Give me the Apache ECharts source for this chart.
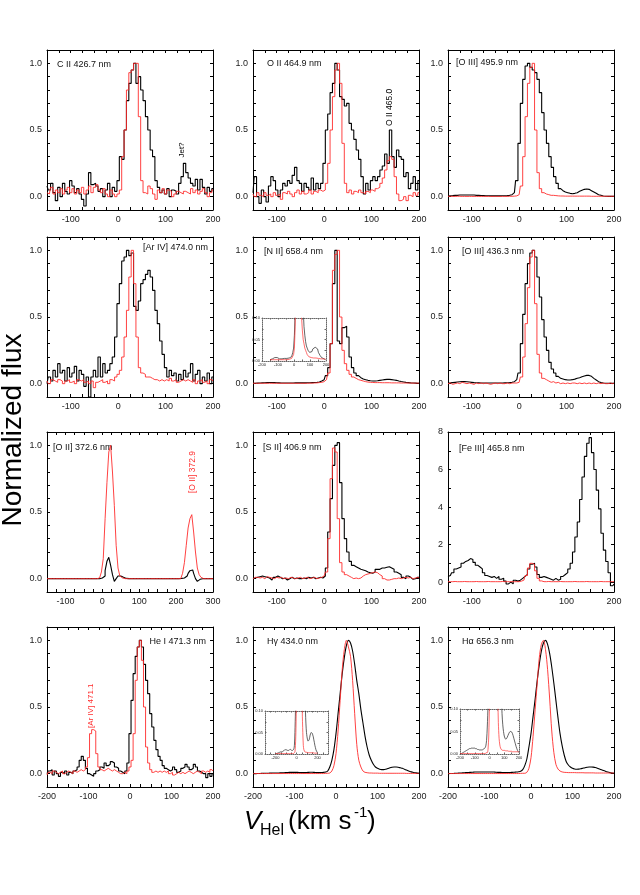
<!DOCTYPE html>
<html>
<head>
<meta charset="utf-8">
<title>spectra</title>
<script src="https://cdn.jsdelivr.net/npm/echarts@6/dist/echarts.min.js"></script>
<style>html,body{margin:0;padding:0;background:#fff}#chart{width:640px;height:895px}</style>
</head>
<body>
<div id="chart"></div>
<script>
// every spectrum is sampled on a 5 km/s velocity grid, starting at its panel's left limit
var VSTEP = 5;

// C II 426.7 (v = -150..200)
var cII_black = [0.08,0.05,0.1,0.03,-0.03,0.07,0.0,0.1,0.04,0.02,
  0.12,0.08,0.03,0.06,0.02,-0.02,-0.07,0.02,0.18,0.09,
  0.1,0.08,0.04,0.06,0.0,0.05,0.1,0.0,0.07,0.04,
  0.12,0.3,0.28,0.5,0.72,0.85,0.95,1.0,0.85,0.9,
  0.8,0.72,0.6,0.5,0.35,0.3,0.12,0.07,0.03,0.05,
  0.02,0.06,0.0,0.05,0.04,0.02,0.1,0.15,0.25,0.18,
  0.14,0.1,0.08,0.13,0.05,0.13,0.07,0.02,0.07,0.04,
  0.06];
var cII_red = [0.03,0.02,0.07,0.02,0.05,0.03,0.06,0.02,0.05,0.07,
  0.03,0.06,0.02,0.05,0.03,0.07,0.02,0.05,0.08,0.03,
  0.07,0.09,0.05,0.03,0.06,0.02,0.0,0.05,0.02,0.0,
  0.02,0.05,0.3,0.5,0.8,0.93,0.95,1.0,1.0,0.6,
  0.12,0.03,0.02,0.08,0.06,0.02,-0.02,0.05,0.03,0.06,
  0.02,0.05,0.04,0.0,0.02,0.04,0.03,0.02,0.04,0.03,
  0.02,0.06,0.03,0.05,0.02,0.04,0.06,0.03,0.0,0.03,
  0.05];

// O II 464.9 (v = -150..200)
var oII_black = [0.03,0.15,0.0,-0.05,0.05,0.0,-0.04,0.08,0.15,0.12,
  0.05,0.0,0.05,0.1,0.08,0.12,0.1,0.16,0.22,0.12,
  0.1,0.04,0.1,0.07,0.05,0.14,0.05,0.1,0.06,0.1,
  0.25,0.5,0.62,0.78,0.85,1.0,0.95,0.75,0.73,0.68,
  0.7,0.55,0.5,0.43,0.35,0.28,0.15,0.02,0.1,0.05,
  0.12,0.15,0.12,0.15,0.2,0.23,0.32,0.25,0.5,0.3,
  0.22,0.35,0.3,0.28,0.15,0.18,0.06,0.1,0.15,0.05,
  0.12];
var oII_red = [0.02,0.0,0.03,0.01,0.0,0.03,0.01,0.02,0.0,0.03,
  0.01,0.02,-0.02,0.03,0.02,0.04,0.02,0.0,0.03,0.05,
  0.02,0.04,0.02,0.03,0.05,0.02,0.04,0.03,0.05,0.04,
  0.05,0.1,0.25,0.5,0.75,0.95,1.0,0.85,0.4,0.1,
  0.03,0.05,0.02,0.04,0.03,0.05,0.03,0.02,0.04,0.03,
  0.05,0.04,0.06,0.07,0.1,0.14,0.2,0.27,0.3,0.28,
  0.15,0.02,-0.03,-0.02,0.0,-0.03,0.01,0.0,0.03,0.01,
  0.03];

// [O III] 495.9 (v = -150..200)
var oIII5_black = [0.005,0.007,0.008,0.01,0.01,0.012,0.012,0.013,0.013,0.013,
  0.012,0.012,0.01,0.01,0.009,0.008,0.007,0.007,0.006,0.006,
  0.006,0.006,0.006,0.007,0.007,0.008,0.01,0.015,0.03,0.12,
  0.4,0.7,0.88,0.98,1.0,0.97,0.95,0.93,0.88,0.78,
  0.63,0.5,0.4,0.3,0.22,0.15,0.1,0.06,0.045,0.035,
  0.03,0.025,0.022,0.025,0.03,0.04,0.048,0.055,0.057,0.055,
  0.045,0.035,0.025,0.015,0.01,0.005,0.003,0.002,0.002,0.002,
  0.002];
var oIII5_red = [0.003,0.003,0.002,0.002,0.003,0.003,0.002,0.002,0.002,0.002,
  0.002,0.002,0.002,0.002,0.002,0.002,0.002,0.002,0.002,0.002,
  0.002,0.002,0.002,0.002,0.002,0.002,0.003,0.003,0.004,0.006,
  0.015,0.08,0.3,0.6,0.85,0.97,1.0,0.5,0.18,0.06,
  0.03,0.02,0.015,0.01,0.01,0.008,0.006,0.005,0.005,0.004,
  0.004,0.004,0.004,0.004,0.004,0.004,0.004,0.004,0.004,0.004,
  0.003,0.003,0.003,0.003,0.003,0.003,0.003,0.003,0.003,0.003,
  0.003];

// [Ar IV] 474.0 (v = -150..200)
var arIV_black = [0.0,0.05,0.02,0.1,0.05,0.15,0.08,0.1,0.02,0.12,
  0.05,0.08,0.13,0.02,0.1,0.07,-0.02,0.05,-0.1,0.05,
  0.1,0.05,0.2,0.05,0.15,0.08,0.1,0.15,0.2,0.35,
  0.6,0.75,0.92,0.95,1.0,0.96,0.98,0.58,0.55,0.62,
  0.75,0.78,0.82,0.85,0.8,0.7,0.55,0.45,0.32,0.22,
  0.12,0.05,0.1,0.06,0.08,0.02,0.07,0.03,0.1,0.05,
  0.08,0.15,0.02,0.07,0.1,0.0,0.05,0.02,0.08,0.0,
  0.05];
var arIV_red = [0.02,0.0,0.03,0.02,0.01,0.03,0.02,0.0,0.02,0.03,
  0.01,0.02,0.0,0.03,0.02,0.03,0.01,0.02,0.0,0.02,
  -0.03,0.01,0.02,0.03,0.01,0.02,0.0,0.03,0.02,0.05,
  0.07,0.1,0.2,0.35,0.55,0.8,1.0,0.75,0.35,0.12,
  0.08,0.07,0.05,0.05,0.04,0.03,0.03,0.02,0.03,0.02,
  0.03,0.02,0.04,0.02,0.03,0.01,0.02,0.03,0.02,0.03,
  0.02,0.01,0.03,0.0,0.02,0.03,0.01,0.02,0.0,0.03,
  0.02];

// [N II] 658.4 (v = -150..200)
var nII_black = [0.003,0.003,0.004,0.005,0.006,0.007,0.008,0.009,0.009,0.008,
  0.007,0.006,0.005,0.005,0.005,0.005,0.005,0.005,0.006,0.006,
  0.006,0.006,0.006,0.007,0.007,0.008,0.009,0.01,0.012,0.02,
  0.03,0.06,0.12,0.3,0.75,1.0,0.32,0.3,0.42,0.43,
  0.35,0.2,0.12,0.08,0.06,0.045,0.035,0.03,0.025,0.022,
  0.02,0.02,0.022,0.025,0.028,0.03,0.032,0.032,0.03,0.028,
  0.025,0.02,0.016,0.013,0.01,0.008,0.006,0.005,0.004,0.003,
  0.003];
var nII_red = [0.003,0.003,0.003,0.003,0.003,0.003,0.003,0.003,0.003,0.003,
  0.003,0.003,0.003,0.003,0.003,0.003,0.003,0.003,0.003,0.003,
  0.003,0.003,0.003,0.003,0.004,0.004,0.005,0.006,0.008,0.01,
  0.015,0.03,0.08,0.3,0.85,0.97,1.0,0.5,0.25,0.15,
  0.1,0.07,0.05,0.04,0.03,0.025,0.02,0.015,0.012,0.01,
  0.009,0.008,0.008,0.008,0.007,0.007,0.007,0.007,0.006,0.006,
  0.006,0.006,0.005,0.005,0.005,0.005,0.005,0.004,0.004,0.004,
  0.004];

// [O III] 436.3 (v = -150..200)
var oIII4_black = [0.005,0.006,0.008,0.01,0.012,0.014,0.015,0.015,0.014,0.012,
  0.01,0.008,0.007,0.006,0.005,0.005,0.005,0.005,0.005,0.005,
  0.005,0.005,0.005,0.005,0.006,0.007,0.008,0.01,0.015,0.03,
  0.08,0.3,0.52,0.75,0.9,0.98,1.0,0.95,0.8,0.65,
  0.48,0.35,0.25,0.16,0.11,0.08,0.055,0.04,0.035,0.03,
  0.028,0.028,0.03,0.034,0.04,0.045,0.052,0.058,0.062,0.062,
  0.055,0.04,0.028,0.015,0.008,0.005,0.003,0.003,0.002,0.002,
  0.002];
var oIII4_red = [0.0,0.005,-0.005,0.0,0.005,0.0,0.01,0.005,0.0,0.005,
  0.0,-0.005,0.005,0.0,0.005,0.0,0.005,0.0,-0.005,0.0,
  0.005,0.0,0.005,0.0,0.0,0.005,0.0,0.005,0.005,0.005,
  0.01,0.05,0.2,0.45,0.72,0.95,1.0,0.6,0.22,0.08,
  0.04,0.03,0.02,0.01,0.015,0.005,0.01,0.0,0.005,0.0,
  0.005,0.0,0.005,0.005,0.0,0.005,0.0,0.005,0.0,0.005,
  0.0,0.005,0.0,0.005,0.0,0.005,0.0,0.0,0.005,0.0,
  0.005];

// [O II] 372.6 (v = -150..300)
var oII3_black = [0,0,0,0,0,0,0,0,0,0,
  0,0,0,0,0,0,0,0,0,0,
  0,0,0,0,0,0,0,0,0,0.002,
  0.005,0.02,0.06,0.13,0.16,0.1,0.03,-0.02,0.0,0.02,
  0.02,0.01,0.005,0.002,0,0,0,0,0,0,
  0,0,0,0,0,0,0,0,0,0,
  0,0,0,0,0,0,0,0,0,0,
  0,0,0,0.002,0.005,0.01,0.02,0.04,0.06,0.065,
  0.04,0.0,-0.02,-0.005,0.0,0,0,0,0,0,
  0];
var oII3_red = [0,0,0,0,0,0,0,0,0,0,
  0,0,0,0,0,0,0,0,0,0,
  0,0,0,0,0,0,0,0,0.005,0.02,
  0.05,0.15,0.45,0.72,0.95,1.0,0.8,0.55,0.25,0.08,
  0.02,0.005,0,0,0,0,0,0,0,0,
  0,0,0,0,0,0,0,0,0,0,
  0,0,0,0,0,0,0,0,0,0,
  0,0,0,0.01,0.04,0.12,0.25,0.38,0.45,0.48,
  0.35,0.2,0.08,0.03,0.01,0,0,0,0,0,
  0];

// [S II] 406.9 (v = -150..200)
var sII_black = [0.0,0.005,0.01,0.015,0.02,0.015,0.01,0.005,-0.01,0.01,
  0.02,0.01,0.0,0.005,-0.01,0.0,0.01,0.0,0.005,0.0,
  0.0,0.005,0.0,0.01,0.005,0.01,0.0,0.005,0.01,0.005,
  0.02,0.08,0.35,0.6,0.85,1.0,1.02,0.72,0.45,0.3,
  0.2,0.13,0.1,0.09,0.08,0.07,0.065,0.06,0.05,0.045,
  0.04,0.05,0.07,0.07,0.08,0.08,0.085,0.09,0.08,0.07,
  0.05,0.04,0.03,0.01,0.0,0.02,0.01,-0.005,0.0,0.01,
  0.01];
var sII_red = [0.0,0.01,0.01,0.005,0.01,0.0,0.015,0.01,0.005,0.0,
  0.01,0.005,0.01,0.0,0.005,0.0,0.01,0.005,0.0,0.005,
  0.01,0.0,0.005,0.01,0.0,0.005,0.01,0.0,0.005,0.01,
  0.02,0.05,0.3,0.75,0.98,0.95,0.45,0.12,0.05,0.03,
  0.02,0.01,0.0,0.005,0.0,0.005,0.02,0.03,0.035,0.04,
  0.045,0.05,0.045,0.03,0.02,0.0,-0.01,-0.01,-0.005,0.0,
  0.0,0.005,0.0,0.005,0.01,0.005,0.01,0.0,0.005,0.01,
  0.005];

// [Fe III] 465.8 (v = -150..200)
var feIII_black = [0.3,0.35,0.5,0.7,0.75,0.8,1.0,1.1,1.15,1.25,
  1.2,1.05,0.9,0.8,0.7,0.5,0.35,0.3,0.25,0.3,
  0.2,0.3,0.15,0.2,0.05,-0.1,0.0,-0.1,0.1,0.05,
  0.1,0.2,0.3,0.4,0.7,0.95,1.0,0.8,0.4,0.25,
  0.3,0.25,0.2,0.15,0.1,0.2,0.1,0.15,0.3,0.4,
  0.5,0.7,1.0,1.6,2.4,3.2,4.4,5.6,6.7,7.4,
  7.7,6.9,6.0,4.9,3.9,2.6,1.7,1.1,0.5,-0.2,
  -0.1];
var feIII_red = [0.02,0.02,0.02,0.03,0.02,0.02,0.02,0.03,0.02,0.02,
  0.02,0.02,0.03,0.02,0.02,0.02,0.02,0.03,0.02,0.02,
  0.02,0.02,0.02,0.03,0.02,0.02,0.02,0.02,0.02,0.02,
  0.02,0.05,0.1,0.35,0.75,1.0,0.95,0.6,0.2,0.06,
  0.02,0.02,0.03,0.02,0.02,0.02,0.02,0.03,0.02,0.02,
  0.02,0.02,0.02,0.03,0.02,0.02,0.02,0.02,0.03,0.02,
  0.02,0.02,0.02,0.02,0.03,0.02,0.02,0.02,0.02,0.02,
  0.02];

// He I 471.3 (v = -200..200)
var heI_black = [0.0,0.02,0.03,-0.01,0.02,0.0,-0.02,0.01,0.0,0.02,
  -0.01,0.01,0.0,0.02,0.03,0.05,0.1,0.13,0.1,0.04,
  0.0,-0.01,-0.02,0.0,0.02,0.03,0.05,0.04,0.08,0.06,
  0.07,0.09,0.08,0.05,0.04,0.02,0.01,0.0,0.02,0.08,
  0.3,0.55,0.75,0.88,0.95,1.0,0.95,0.82,0.7,0.6,
  0.45,0.35,0.25,0.18,0.13,0.1,0.06,0.04,0.03,0.02,
  0.03,0.05,0.03,0.01,0.02,0.04,0.05,0.07,0.05,0.03,
  0.04,0.07,0.05,0.02,0.01,0.0,0.0,-0.03,0.0,-0.02,
  0.0];
var heI_red = [-0.01,0.01,0.0,0.02,0.01,0.0,0.01,0.02,0.0,0.01,
  0.02,0.01,0.0,0.02,0.01,0.02,0.03,0.02,0.03,0.05,
  0.12,0.3,0.33,0.32,0.15,0.05,0.03,0.02,0.03,0.04,
  0.03,0.02,0.03,0.02,0.01,0.0,0.0,0.01,0.0,0.02,
  0.05,0.1,0.3,0.7,0.95,1.0,0.85,0.5,0.2,0.08,
  0.03,0.01,0.02,0.01,0.02,0.01,0.02,0.01,0.02,0.0,
  0.01,-0.01,0.0,0.01,0.0,0.01,0.0,0.01,0.02,0.01,
  0.0,0.01,0.02,0.01,0.0,0.02,0.01,0.02,0.01,0.03,
  0.02];

// H gamma 434.0 (v = -200..200)
var hg_black = [0.0,0.0,0.001,0.001,0.002,0.002,0.003,0.003,0.004,0.004,
  0.005,0.005,0.005,0.006,0.006,0.007,0.008,0.009,0.01,0.01,
  0.01,0.01,0.009,0.008,0.008,0.008,0.009,0.01,0.011,0.01,
  0.009,0.008,0.008,0.009,0.01,0.012,0.02,0.05,0.1,0.18,
  0.3,0.45,0.6,0.75,0.87,0.96,1.0,0.98,0.92,0.82,
  0.7,0.6,0.48,0.38,0.28,0.2,0.14,0.1,0.07,0.05,
  0.04,0.033,0.03,0.03,0.033,0.038,0.044,0.048,0.05,0.05,
  0.048,0.044,0.04,0.033,0.027,0.02,0.015,0.01,0.007,0.005,
  0.003];
var hg_red = [0.001,0.001,0.001,0.001,0.001,0.001,0.001,0.001,0.001,0.001,
  0.001,0.001,0.001,0.001,0.001,0.001,0.001,0.001,0.001,0.001,
  0.001,0.001,0.001,0.001,0.001,0.001,0.001,0.001,0.001,0.001,
  0.001,0.001,0.001,0.001,0.001,0.002,0.003,0.005,0.02,0.06,
  0.15,0.32,0.55,0.78,0.93,1.0,0.95,0.88,0.7,0.45,
  0.22,0.1,0.05,0.02,0.01,0.007,0.005,0.005,0.004,0.004,
  0.004,0.003,0.003,0.003,0.003,0.003,0.003,0.003,0.003,0.003,
  0.003,0.003,0.003,0.003,0.002,0.002,0.002,0.002,0.002,0.002,
  0.002];

// H alpha 656.3 (v = -200..200)
var ha_black = [0.0,0.001,0.001,0.002,0.003,0.004,0.005,0.006,0.007,0.008,
  0.009,0.01,0.011,0.012,0.012,0.013,0.013,0.013,0.013,0.013,
  0.013,0.012,0.012,0.011,0.01,0.01,0.009,0.009,0.009,0.009,
  0.009,0.01,0.011,0.012,0.014,0.018,0.03,0.06,0.11,0.2,
  0.3,0.43,0.56,0.7,0.82,0.92,0.98,1.0,0.97,0.9,
  0.8,0.68,0.55,0.42,0.3,0.21,0.14,0.09,0.065,0.05,
  0.04,0.035,0.033,0.034,0.037,0.041,0.045,0.048,0.05,0.05,
  0.049,0.046,0.041,0.035,0.029,0.023,0.017,0.012,0.008,0.005,
  0.003];
var ha_red = [0.001,0.001,0.001,0.001,0.001,0.001,0.001,0.001,0.001,0.001,
  0.001,0.001,0.001,0.001,0.001,0.001,0.001,0.001,0.001,0.001,
  0.001,0.001,0.001,0.001,0.001,0.001,0.001,0.001,0.001,0.001,
  0.001,0.001,0.001,0.001,0.001,0.002,0.003,0.003,0.01,0.04,
  0.12,0.28,0.48,0.68,0.87,0.97,1.0,0.93,0.78,0.56,
  0.32,0.16,0.07,0.035,0.02,0.013,0.01,0.009,0.008,0.008,
  0.008,0.008,0.007,0.007,0.007,0.007,0.006,0.006,0.006,0.006,
  0.006,0.005,0.005,0.005,0.005,0.005,0.005,0.005,0.005,0.005,
  0.005];

// tick labels
var xLabStd = [-100, 0, 100, 200];
var xLabWide = [-100, 0, 100, 200, 300];
var xLabRow4 = [-200, -100, 0, 100, 200];
var yLabNorm = [0, 0.5, 1];
var yLabFe = [0, 2, 4, 6, 8];
var xLabInsetA = [-200, -100, 0, 100, 200];
var xLabInsetB = [-200, 0, 200];
var yLabInset = [0, 0.05, 0.1];

// ---------------------------------------------------------------
var FONT = '"Liberation Sans", Arial, Helvetica, sans-serif';
var BLACK = '#000', RED = '#ff2d2d';
var colLeft = [47, 253, 448], rowTop = [50, 237, 432, 627];
var panelW = 166, panelH = 160;

var panels = [
  {title: 'C II 426.7 nm', v0: -150, black: cII_black, red: cII_red, xr: [-150, 200], xl: xLabStd, dx: 10, dy: 15},
  {title: 'O II 464.9 nm', v0: -150, black: oII_black, red: oII_red, xr: [-150, 200], xl: xLabStd, dx: 14, dy: 14},
  {title: '[O III] 495.9 nm', v0: -150, black: oIII5_black, red: oIII5_red, xr: [-150, 200], xl: xLabStd, dx: 8, dy: 13},
  {title: '[Ar IV] 474.0 nm', v0: -150, black: arIV_black, red: arIV_red, xr: [-150, 200], xl: xLabStd, dx: 5, dy: 11, right: true},
  {title: '[N II] 658.4 nm', v0: -150, black: nII_black, red: nII_red, xr: [-150, 200], xl: xLabStd, dx: 11, dy: 15},
  {title: '[O III] 436.3 nm', v0: -150, black: oIII4_black, red: oIII4_red, xr: [-150, 200], xl: xLabStd, dx: 14, dy: 15},
  {title: '[O II] 372.6 nm', v0: -150, black: oII3_black, red: oII3_red, xr: [-150, 300], xl: xLabWide, dx: 6, dy: 16},
  {title: '[S II] 406.9 nm', v0: -150, black: sII_black, red: sII_red, xr: [-150, 200], xl: xLabStd, dx: 10, dy: 16},
  {title: '[Fe III] 465.8 nm', v0: -150, black: feIII_black, red: feIII_red, xr: [-150, 200], xl: xLabStd, dx: 11, dy: 17, fe: true},
  {title: 'He I 471.3 nm', v0: -200, black: heI_black, red: heI_red, xr: [-200, 200], xl: xLabRow4, dx: 7, dy: 15, right: true},
  {title: 'H\u03b3 434.0 nm', v0: -200, black: hg_black, red: hg_red, xr: [-200, 200], xl: xLabRow4, dx: 14, dy: 15, smooth: true},
  {title: 'H\u03b1 656.3 nm', v0: -200, black: ha_black, red: ha_red, xr: [-200, 200], xl: xLabRow4, dx: 14, dy: 15, smooth: true}
];

var insets = [
  {panel: 4, box: [262, 318, 64, 43], xr: [-200, 200], xl: xLabInsetA},
  {panel: 10, box: [265, 711, 63, 43], xr: [-300, 300], xl: xLabInsetB},
  {panel: 11, box: [460, 709, 59, 45], xr: [-200, 200], xl: xLabInsetA}
];

var notes = [
  {panel: 0, text: 'Jet?', at: [135, 0.35], color: BLACK, size: 8},
  {panel: 1, text: 'O II 465.0', at: [139, 0.67], color: BLACK, size: 8.5},
  {panel: 6, text: '[O II] 372.9', at: [246, 0.8], color: RED, size: 8.5},
  {panel: 9, text: '[Ar IV] 471.1', at: [-94, 0.51], color: RED, size: 8}
];

function stepList(a, b, step) {
  var out = [];
  for (var v = a; v <= b + 1e-9; v += step) out.push(+v.toFixed(5));
  return out;
}
function toPairs(v0, arr) {
  return arr.map(function (y, i) { return [v0 + i * VSTEP, y]; });
}

var grids = [], xAxes = [], yAxes = [], series = [], graphics = [];

function addFrame(box, xr, yr, xt, xl, yt, yl, st) {
  var g = grids.length;
  grids.push({left: box[0], top: box[1], width: box[2], height: box[3], show: st.inset, backgroundColor: '#fff', borderWidth: 0});
  var line = {show: true, onZero: false, lineStyle: {color: st.color, width: 1, type: st.type}};
  var xi = xAxes.length, yi = yAxes.length;
  var lab = {fontSize: st.font, color: '#222', fontFamily: FONT, margin: st.margin};
  ['bottom', 'top'].forEach(function (pos, k) {
    xAxes.push({gridIndex: g, type: 'value', position: pos, min: xr[0], max: xr[1],
      axisLine: line, splitLine: {show: false},
      axisTick: {show: true, inside: true, length: st.tick, customValues: xt, lineStyle: {color: st.color}},
      axisLabel: k === 0 ? Object.assign({customValues: xl, formatter: function (v) { return String(v); }}, lab) : {show: false}});
  });
  ['left', 'right'].forEach(function (pos, k) {
    yAxes.push({gridIndex: g, type: 'value', position: pos, min: yr[0], max: yr[1],
      axisLine: line, splitLine: {show: false},
      axisTick: {show: true, inside: true, length: st.tick, customValues: yt, lineStyle: {color: st.color}},
      axisLabel: k === 0 ? Object.assign({customValues: yl, formatter: function (v) { return v.toFixed(st.dec); }}, lab) : {show: false}});
  });
  return {x: xi, y: yi};
}

function addSpectrum(ax, p, arr, color, width, z) {
  series.push({type: 'line', xAxisIndex: ax.x, yAxisIndex: ax.y, data: toPairs(p.v0, arr),
    step: p.smooth ? false : 'middle', smooth: p.smooth ? 0.3 : false,
    showSymbol: false, symbol: 'none', silent: true, z: z,
    lineStyle: {color: color, width: width}});
}

var frames = [];
panels.forEach(function (p, i) {
  var box = [colLeft[i % 3], rowTop[Math.floor(i / 3)], panelW, panelH];
  var yr = p.fe ? [-0.53, 8] : [-0.1, 1.1];
  var yt = p.fe ? stepList(0, 7, 1) : stepList(0, 1, 0.1);
  var xt = stepList(p.xr[0] + 25, p.xr[1] - 25, 25);
  var ax = addFrame(box, p.xr, yr, xt, p.xl, yt, p.fe ? yLabFe : yLabNorm,
    {inset: false, color: '#000', type: 'solid', font: 9, margin: 5, tick: 3, dec: p.fe ? 0 : 1});
  frames.push(ax);
  addSpectrum(ax, p, p.black, BLACK, 1.1, 2);
  addSpectrum(ax, p, p.red, RED, 0.9, 3);
  var tx = p.right ? box[0] + panelW - p.dx : box[0] + p.dx;
  graphics.push({type: 'text', x: tx, y: box[1] + p.dy, silent: true,
    style: {text: p.title, fill: '#111', font: '9px ' + FONT, align: p.right ? 'right' : 'left', verticalAlign: 'middle',
      textAlign: p.right ? 'right' : 'left', textVerticalAlign: 'middle'}});
});

insets.forEach(function (ins) {
  var p = panels[ins.panel];
  var ax = addFrame(ins.box, ins.xr, [0, 0.1], stepList(ins.xr[0] + 50, ins.xr[1] - 50, 50), ins.xl,
    stepList(0.025, 0.075, 0.025), yLabInset,
    {inset: true, color: '#666', type: 'dotted', font: 4, margin: 2, tick: 1.5, dec: 2});
  addSpectrum(ax, p, p.black, '#222', 0.7, 10);
  addSpectrum(ax, p, p.red, RED, 0.7, 11);
});

// axis titles
graphics.push({type: 'text', x: 13, y: 430, rotation: Math.PI / 2, silent: true,
  style: {text: 'Normalized flux', fill: '#000', font: '28px ' + FONT, align: 'center', verticalAlign: 'middle', textAlign: 'center', textVerticalAlign: 'middle'}});
var xTitle = [
  {t: 'V', x: 244, y: 822, f: 'italic 26px ' + FONT},
  {t: 'Hel', x: 260, y: 831, f: '16px ' + FONT},
  {t: '(km s', x: 288, y: 822, f: '26px ' + FONT},
  {t: '-1', x: 354, y: 813, f: '15px ' + FONT},
  {t: ')', x: 367, y: 822, f: '26px ' + FONT}
];
xTitle.forEach(function (s) {
  graphics.push({type: 'text', x: s.x, y: s.y, silent: true,
    style: {text: s.t, fill: '#000', font: s.f, align: 'left', verticalAlign: 'middle', textAlign: 'left', textVerticalAlign: 'middle'}});
});

var chart = echarts.init(document.getElementById('chart'), null, {renderer: 'canvas'});
chart.setOption({animation: false, backgroundColor: '#fff', grid: grids, xAxis: xAxes, yAxis: yAxes, series: series, graphic: graphics});

// rotated line identifications, placed at their velocity / flux position
notes.forEach(function (n) {
  var ax = frames[n.panel];
  var pt = chart.convertToPixel({xAxisIndex: ax.x, yAxisIndex: ax.y}, n.at);
  graphics.push({type: 'text', x: pt[0], y: pt[1], rotation: Math.PI / 2, silent: true,
    style: {text: n.text, fill: n.color, font: n.size + 'px ' + FONT, align: 'center', verticalAlign: 'middle', textAlign: 'center', textVerticalAlign: 'middle'}});
});
chart.setOption({graphic: graphics});
</script>
</body>
</html>
